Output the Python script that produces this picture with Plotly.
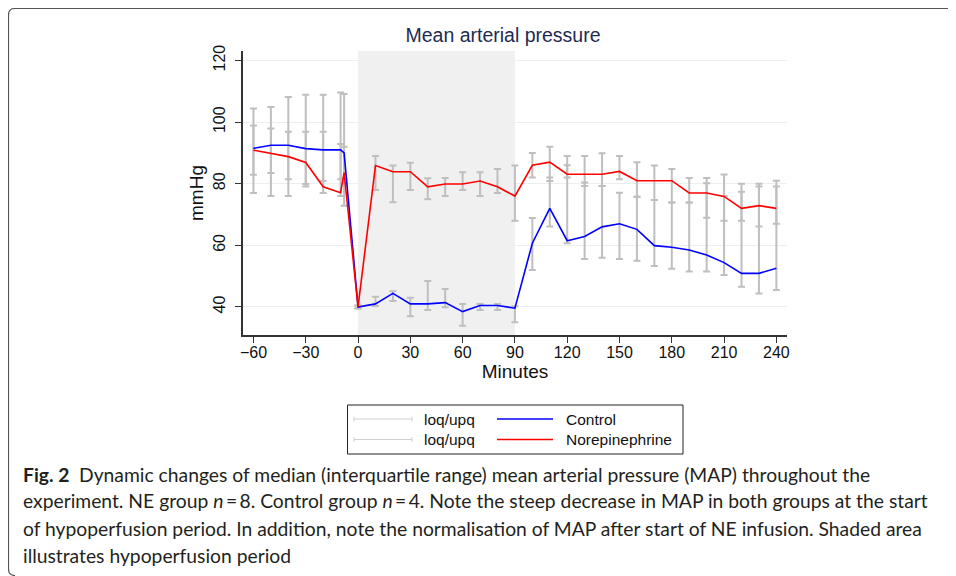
import plotly.graph_objects as go

# ---------------- data ----------------
minutes = [-60, -50, -40, -30, -20, -10, -8, 0, 10, 20, 30, 40, 50, 60, 70, 80, 90,
           100, 110, 120, 130, 140, 150, 160, 170, 180, 190, 200, 210, 220, 230, 240]

control_median = [91.5, 92.5, 92.5, 91.4, 91.0, 91.0, 90.0, 40.0, 41.0, 44.4, 41.0, 41.0,
                  41.4, 38.5, 40.5, 40.5, 39.6, 60.7, 72.0, 61.5, 62.9, 66.0, 67.0, 65.2,
                  59.9, 59.4, 58.5, 56.9, 54.4, 50.9, 50.9, 52.6]
control_loq = [77.0, 76.0, 76.0, 79.9, 80.9, 81.5, 81.6, 39.5, 40.3, 41.9, 37.0, 39.0,
               39.9, 33.9, 39.0, 39.0, 35.0, 52.0, 66.1, 60.7, 55.6, 56.0, 55.6, 55.0,
               53.3, 52.4, 51.5, 51.5, 50.4, 46.6, 44.4, 45.5]
control_upq = [104.4, 104.9, 108.2, 108.9, 108.9, 109.6, 109.1, 40.5, 43.3, 45.1, 43.0, 48.4,
               45.8, 41.0, 41.0, 41.0, 40.2, 68.9, 82.0, 86.0, 80.4, 79.3, 77.1, 75.8,
               74.7, 73.9, 73.9, 80.2, 76.0, 77.4, 79.1, 79.1]

ne_median = [90.9, 89.9, 88.8, 86.9, 79.0, 77.1, 83.6, 40.0, 85.9, 83.9, 83.9, 79.0,
             79.9, 79.9, 80.9, 79.0, 76.0, 86.0, 87.0, 83.1, 83.1, 83.1, 84.0, 81.0,
             81.0, 81.0, 77.0, 77.0, 75.9, 72.0, 72.9, 72.0]
ne_loq = [82.9, 83.5, 81.5, 79.1, 77.0, 76.0, 72.9, 39.5, 78.0, 74.0, 78.0, 75.0,
          76.0, 78.0, 76.0, 77.0, 68.0, 82.0, 80.9, 82.0, 79.3, 79.3, 81.5, 75.8,
          74.7, 73.9, 73.9, 69.0, 68.0, 68.0, 66.1, 67.0]
ne_upq = [98.9, 97.9, 96.9, 96.9, 96.9, 92.9, 92.0, 40.5, 89.0, 85.9, 86.8, 81.8,
          81.9, 83.7, 83.7, 84.8, 85.9, 90.0, 92.0, 89.0, 89.0, 89.9, 89.0, 87.0,
          85.9, 84.8, 81.9, 81.9, 83.0, 80.0, 80.0, 81.0]

hypoperfusion = [0, 90]
x_ticks = [-60, -30, 0, 30, 60, 90, 120, 150, 180, 210, 240]
x_ticktext = ["\u221260", "\u221230", "0", "30", "60", "90", "120", "150", "180", "210", "240"]
y_ticks = [40, 60, 80, 100, 120]

series_names = ["Control", "Norepinephrine"]
legend_err_label = "loq/upq"

caption_lines = [
    "<b>Fig. 2</b>\u2002Dynamic changes of median (interquartile range) mean arterial pressure (MAP) throughout the",
    "experiment. NE group <i>n</i>\u2009=\u20098. Control group <i>n</i>\u2009=\u20094. Note the steep decrease in MAP in both groups at the start",
    "of hypoperfusion period. In addition, note the normalisation of MAP after start of NE infusion. Shaded area",
    "illustrates hypoperfusion period",
]

# ---------------- layout geometry ----------------
# The page body has an 8px margin, so the figure is drawn 8px smaller and all
# screen positions below are converted by subtracting that offset.
OFF = 8
W, H = 956 - OFF, 576 - OFF
L, R, T, B = 243 - OFF, 787 - OFF, 51 - OFF, 335 - OFF


def px(x):
    return (x - OFF - L) / (R - L)


def py(y):
    return (B - (y - OFF)) / (B - T)


ERR_COLOR = "#bfbfbf"
FONT = "Liberation Sans, Arial, sans-serif"

fig = go.Figure()


def err_trace(median, loq, upq):
    return go.Scatter(
        x=minutes, y=median, mode="markers",
        marker=dict(size=1, opacity=0),
        error_y=dict(type="data", symmetric=False,
                     array=[u - m for u, m in zip(upq, median)],
                     arrayminus=[m - l for m, l in zip(median, loq)],
                     color=ERR_COLOR, thickness=2, width=3.5),
        showlegend=False, hoverinfo="skip")


fig.add_trace(err_trace(control_median, control_loq, control_upq))
fig.add_trace(err_trace(ne_median, ne_loq, ne_upq))
fig.add_trace(go.Scatter(x=minutes, y=control_median, mode="lines",
                         line=dict(color="#0000ff", width=1.6), name=series_names[0],
                         showlegend=False))
fig.add_trace(go.Scatter(x=minutes, y=ne_median, mode="lines",
                         line=dict(color="#ff0000", width=1.6), name=series_names[1],
                         showlegend=False))

shapes = []
# shaded hypoperfusion period
shapes.append(dict(type="rect", xref="x", yref="paper", x0=hypoperfusion[0], x1=hypoperfusion[1],
                   y0=0, y1=1, fillcolor="#f0f0f0", line=dict(width=0), layer="below"))

# legend box
lx0, lx1, ly0, ly1 = 347.5, 683, 405, 454
shapes.append(dict(type="rect", xref="paper", yref="paper", x0=px(lx0), x1=px(lx1),
                   y0=py(ly1), y1=py(ly0), line=dict(color="#222222", width=1),
                   fillcolor="white"))
rows = [419, 439.5]
for ry in rows:
    shapes.append(dict(type="line", xref="paper", yref="paper", x0=px(354), x1=px(412),
                       y0=py(ry), y1=py(ry), line=dict(color="#cfcfcf", width=1)))
    for cx in (354, 412):
        shapes.append(dict(type="line", xref="paper", yref="paper", x0=px(cx), x1=px(cx),
                           y0=py(ry - 2.5), y1=py(ry + 2.5), line=dict(color="#cfcfcf", width=1)))
shapes.append(dict(type="line", xref="paper", yref="paper", x0=px(497), x1=px(553),
                   y0=py(rows[0]), y1=py(rows[0]), line=dict(color="#0000ff", width=1.6)))
shapes.append(dict(type="line", xref="paper", yref="paper", x0=px(497), x1=px(553),
                   y0=py(rows[1]), y1=py(rows[1]), line=dict(color="#ff0000", width=1.6)))

# outer rounded frame
path = (f"M {px(960)},{py(8.5)} L {px(15)},{py(8.5)} "
        f"Q {px(8.5)},{py(8.5)} {px(8.5)},{py(15)} "
        f"L {px(8.5)},{py(569)} Q {px(8.5)},{py(575.5)} {px(15)},{py(575.5)}")
shapes.append(dict(type="path", xref="paper", yref="paper", path=path,
                   line=dict(color="#555555", width=1.2)))

annotations = []
for ry, txt in zip(rows, [legend_err_label, legend_err_label]):
    annotations.append(dict(xref="paper", yref="paper", x=px(422), y=py(ry), text=txt,
                            showarrow=False, xanchor="left", yanchor="middle",
                            font=dict(family=FONT, size=15.5, color="#111111")))
for ry, txt in zip(rows, series_names):
    annotations.append(dict(xref="paper", yref="paper", x=px(564), y=py(ry), text=txt,
                            showarrow=False, xanchor="left", yanchor="middle",
                            font=dict(family=FONT, size=15.5, color="#111111")))

cap_y = [474, 501, 528, 555]
for cy, txt in zip(cap_y, caption_lines):
    annotations.append(dict(xref="paper", yref="paper", x=px(21), y=py(cy), text=txt,
                            showarrow=False, xanchor="left", yanchor="middle", align="left",
                            font=dict(family="Lato, sans-serif", size=19.3, color="#231f20")))

fig.update_layout(
    width=W, height=H,
    margin=dict(l=L, r=W - R, t=T, b=H - B, autoexpand=False),
    paper_bgcolor="white", plot_bgcolor="white",
    showlegend=False,
    title=dict(text="Mean arterial pressure", x=(503 - OFF) / W, xanchor="center",
               y=1 - (35 - OFF) / H, yanchor="middle", xref="container", yref="container",
               font=dict(family=FONT, size=19.5, color="#1e2b52")),
    shapes=shapes, annotations=annotations,
    xaxis=dict(range=[-66, 246.1], tickvals=x_ticks, ticktext=x_ticktext,
               ticks="outside", ticklen=6, tickwidth=1.2, tickcolor="#333333",
               showline=True, linecolor="#333333", linewidth=1.5,
               showgrid=False, zeroline=False, ticklabelstandoff=-4,
               tickfont=dict(family=FONT, size=16, color="#111111"),
               title=dict(text="Minutes", standoff=4,
                          font=dict(family=FONT, size=19, color="#111111"))),
    yaxis=dict(range=[30.9, 123.1], tickvals=y_ticks,
               ticks="outside", ticklen=6, tickwidth=1.2, tickcolor="#333333",
               showline=True, linecolor="#333333", linewidth=1.5,
               showgrid=True, gridcolor="#eaf0f0", gridwidth=1, zeroline=False,
               tickangle=-90, ticklabelstandoff=4,
               tickfont=dict(family=FONT, size=16, color="#111111"),
               title=dict(text="mmHg", standoff=2,
                          font=dict(family=FONT, size=19, color="#111111"))),
)

fig.write_html("out.html")
